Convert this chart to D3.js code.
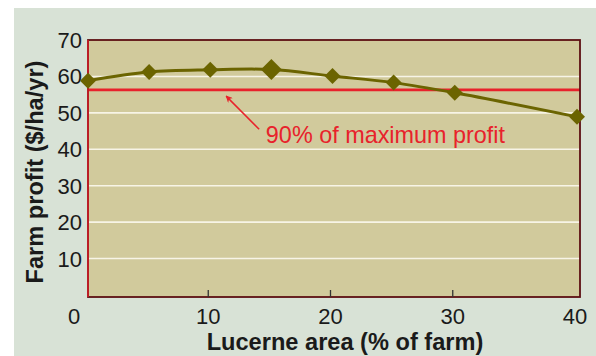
<!DOCTYPE html>
<html>
<head>
<meta charset="utf-8">
<script src="https://cdn.jsdelivr.net/npm/d3@7"></script>
<style>
  html, body { margin: 0; padding: 0; background: #ffffff; }
  svg { display: block; }
  text { font-family: "Liberation Sans", Arial, Helvetica, sans-serif; }
</style>
</head>
<body>
<svg id="chart" width="596" height="356"></svg>
<script>
// Lucerne area (% of farm) and resulting farm profit ($/ha/yr)
const lucerneArea = [0, 5, 10, 15, 20, 25, 30, 40];
const farmProfit = [58.8, 61.2, 61.8, 61.9, 60.1, 58.3, 55.5, 48.9];
// 90% of the maximum profit
const threshold = 56.3;
const thresholdLabel = "90% of maximum profit";
const xTicks = [0, 10, 20, 30, 40];
const yTicks = [10, 20, 30, 40, 50, 60, 70];
const xTitle = "Lucerne area (% of farm)";
const yTitle = "Farm profit ($/ha/yr)";

const svg = d3.select("#chart");
const W = 596, H = 356;
const plot = { left: 88, right: 580, top: 40, bottom: 297 };

const x = d3.scaleLinear().domain([0, 40]).range([88, 577]);
const y = d3.scaleLinear().domain([0, 70]).range([295, 40]);

// panel background
svg.append("rect").attr("x", 14).attr("y", 8).attr("width", W - 14).attr("height", H - 8)
  .attr("fill", "#d8e2d6");

// plot area
svg.append("rect")
  .attr("x", plot.left).attr("y", plot.top)
  .attr("width", plot.right - plot.left).attr("height", plot.bottom - plot.top)
  .attr("fill", "#d1ca9c");

// horizontal gridlines
svg.append("g").selectAll("line")
  .data(yTicks.filter(d => d < 70))
  .join("line")
  .attr("x1", plot.left).attr("x2", plot.right)
  .attr("y1", d => y(d)).attr("y2", d => y(d))
  .attr("stroke", "#f7f4e6").attr("stroke-width", 1.6);

// threshold line
svg.append("line")
  .attr("x1", plot.left).attr("x2", plot.right)
  .attr("y1", y(threshold)).attr("y2", y(threshold))
  .attr("stroke", "#e8222b").attr("stroke-width", 2.6);

// frame
svg.append("rect")
  .attr("x", plot.left).attr("y", plot.top)
  .attr("width", plot.right - plot.left).attr("height", plot.bottom - plot.top)
  .attr("fill", "none").attr("stroke", "#5c0f12").attr("stroke-width", 1.8);
svg.append("line")
  .attr("x1", plot.left).attr("x2", plot.left)
  .attr("y1", plot.top).attr("y2", plot.bottom)
  .attr("stroke", "#d01d28").attr("stroke-width", 1.6);

// x tick marks (inside, interior ticks only)
svg.append("g").selectAll("line")
  .data(xTicks.filter(d => d > 0 && d < 40))
  .join("line")
  .attr("x1", d => x(d) - 2).attr("x2", d => x(d) - 2)
  .attr("y1", plot.bottom - 7).attr("y2", plot.bottom)
  .attr("stroke", "#333").attr("stroke-width", 1.3);

// x tick labels
svg.append("g").selectAll("text")
  .data(xTicks)
  .join("text")
  .attr("x", d => x(d) - (d === 0 ? 14 : 2))
  .attr("y", 324)
  .attr("text-anchor", "middle")
  .attr("font-size", 22)
  .attr("fill", "#1a1a1a")
  .text(d => d);

// y tick labels
svg.append("g").selectAll("text")
  .data(yTicks)
  .join("text")
  .attr("x", 82)
  .attr("y", d => y(d) + 8)
  .attr("text-anchor", "end")
  .attr("font-size", 22)
  .attr("fill", "#1a1a1a")
  .text(d => d);

// axis titles
svg.append("text")
  .attr("x", 345).attr("y", 350)
  .attr("text-anchor", "middle")
  .attr("font-size", 23.6).attr("font-weight", "bold")
  .attr("fill", "#1a1a1a")
  .text(xTitle);

svg.append("text")
  .attr("transform", "translate(43,172) rotate(-90)")
  .attr("text-anchor", "middle")
  .attr("font-size", 23.6).attr("font-weight", "bold")
  .attr("fill", "#1a1a1a")
  .text(yTitle);

// annotation arrow and label
const defs = svg.append("defs");
defs.append("marker")
  .attr("id", "arrow").attr("viewBox", "0 0 10 10")
  .attr("refX", 9).attr("refY", 5)
  .attr("markerWidth", 7).attr("markerHeight", 7)
  .attr("markerUnits", "userSpaceOnUse")
  .attr("orient", "auto")
  .append("path").attr("d", "M0,0 L10,5 L0,10 L3,5 Z").attr("fill", "#e8222b");

svg.append("line")
  .attr("x1", x(14.0)).attr("y1", y(45.5))
  .attr("x2", x(11.3)).attr("y2", y(54.6))
  .attr("stroke", "#e8222b").attr("stroke-width", 1.5)
  .attr("marker-end", "url(#arrow)");

svg.append("text")
  .attr("x", x(14.55)).attr("y", y(41.6))
  .attr("font-size", 23.4)
  .attr("fill", "#e8222b")
  .text(thresholdLabel);

// profit curve
const pts = lucerneArea.map((a, i) => [a, farmProfit[i]]);
const line = d3.line().x(d => x(d[0])).y(d => y(d[1])).curve(d3.curveCatmullRom.alpha(0.5));
svg.append("path")
  .attr("d", line(pts))
  .attr("fill", "none")
  .attr("stroke", "#6b6400").attr("stroke-width", 3);

// diamond markers; the highest point is drawn slightly larger
const maxProfit = d3.max(farmProfit);
svg.append("g").selectAll("path")
  .data(pts)
  .join("path")
  .attr("transform", d => `translate(${x(d[0])},${y(d[1])}) rotate(45)`)
  .attr("d", d => d3.symbol(d3.symbolSquare, d[1] === maxProfit ? 220 : 128)())
  .attr("fill", "#6b6400");
</script>
</body>
</html>
